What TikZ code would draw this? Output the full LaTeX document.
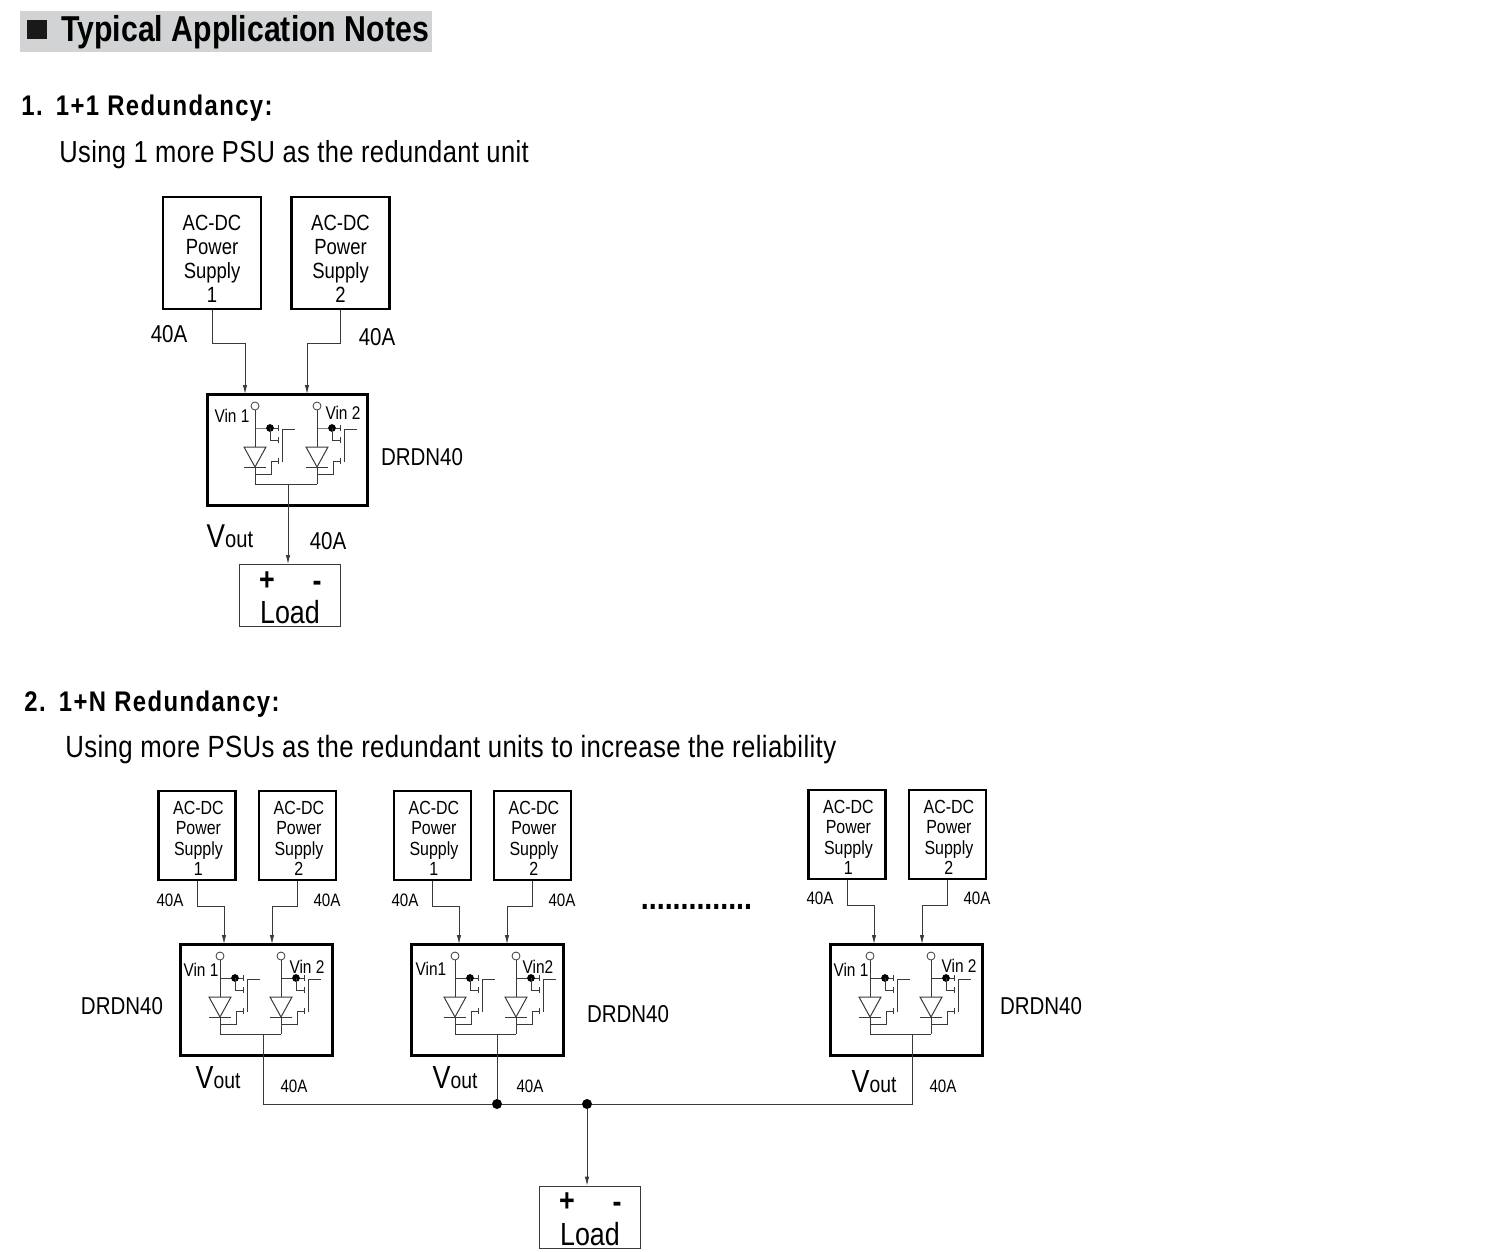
\documentclass[tikz,border=0pt]{standalone}
\usepackage{fontspec}
\setmainfont[FakeStretch=0.84]{Liberation Sans}
\newfontfamily\titlefont[FakeStretch=0.84,LetterSpace=5]{Liberation Sans}
\newfontfamily\notefont[FakeStretch=0.84,LetterSpace=1.2]{Liberation Sans}
\usetikzlibrary{arrows.meta,positioning,calc}
\definecolor{headgray}{HTML}{D1D3D4}
\definecolor{inkgray}{HTML}{3A3A3A}
\newcommand{\fsz}[1]{\fontsize{#1}{#1}\selectfont}
\tikzset{
  psubig/.style={draw=black,line width=1.3pt,minimum width=49pt,minimum height=56pt,inner sep=0pt,
    label={[psutext,font={\fontsize{11}{12}\selectfont},yshift=-2.7pt]center:AC-DC\\Power\\Supply\\#1}},
  psusmall/.style={draw=black,line width=1.2pt,minimum width=38.5pt,minimum height=44.5pt,inner sep=0pt,
    label={[psutext,font={\fontsize{9.5}{10.2}\selectfont},yshift=-1.5pt,xshift=0.7pt]center:AC-DC\\Power\\Supply\\#1}},
  psutext/.style={align=center,inner sep=0pt,text=black},
  cellbig/.style={draw=black,line width=1.5pt,minimum width=80pt,minimum height=55.5pt,inner sep=0pt},
  cellsmall/.style={draw=black,line width=1.5pt,minimum width=76pt,minimum height=55.5pt,inner sep=0pt},
  loadbox/.style={draw=inkgray,line width=0.4pt,minimum width=50.5pt,minimum height=31pt,inner sep=0pt},
  wire/.style={draw=inkgray,line width=0.4pt},
  feed/.style={wire,-{Latex[length=4.5pt,width=2.2pt]}},
  tag/.style={inner sep=0pt,font=\fsz{12.2}},
  tagsmall/.style={inner sep=0pt,font=\fsz{9}},
  vinbig/.style={inner sep=0pt,font=\fsz{9.2}},
  vinsmall/.style={inner sep=0pt,font=\fsz{9.2}},
  joint/.style={circle,fill=black,inner sep=0pt,minimum size=5pt},
  headtext/.style={anchor=west,inner sep=0pt},
  poletext/.style={inner sep=0pt,font=\fsz{16}\bfseries},
}
% one diode leg: #1 = branch x, #2 = top of the box
\newcommand{\oringleg}[2]{
  \begin{scope}[shift={(#1,#2)}]
    \draw[wire] (0,16) -- (0,53);
    \draw[wire,fill=white] (0,12) circle (2pt);
    \draw[wire,line width=0.5pt,line join=miter] (-11,53) -- (11,53) -- (0,73) -- cycle;
    \draw[wire,line width=0.5pt] (-11,73) -- (11,73);
    \draw[wire] (0,73) -- (0,90);
    \draw[wire] (0,34) -- (15,34) -- (23,34);
    \filldraw[black] (15,34) circle (1.7pt);
    \draw[wire] (15,34) -- (15,46) -- (23,46);
    \draw[wire] (23,31) -- (23,37);
    \draw[wire] (23,43) -- (23,49);
    \draw[wire] (40,35) -- (27,35) -- (27,68);
    \draw[wire] (0,80) -- (16,80) -- (16,67) -- (23,67);
    \draw[wire] (23,64) -- (23,70);
  \end{scope}
}
\begin{document}
\begin{tikzpicture}[x=0.5pt,y=-0.5pt]
\useasboundingbox (0,0) rectangle (1488,1252);
% heading
\fill[headgray] (20,11) rectangle (432,52);
\fill[black!90] (27,20) rectangle (47,39);
\node[headtext,font=\fsz{18}\bfseries] (head) at (61,32) {Typical Application Notes};
\node[headtext,font=\fsz{14.2}\titlefont\bfseries] (titleone) at (21,108) {1.\ \hspace{2.6pt}1+1 Redundancy:};
\node[headtext,font=\fsz{15.2}\notefont] (noteone) at (59,155) {Using 1 more PSU as the redundant unit};
\node[headtext,font=\fsz{14.2}\titlefont\bfseries] (titletwo) at (24,704) {2.\ \hspace{2.6pt}1+N Redundancy:};
\node[headtext,font=\fsz{15.34}\notefont] (notetwo) at (65,750) {Using more PSUs as the redundant units to increase the reliability};

% 1+1
\node[psubig={1}] (psua) at (212,253) {};
\node[psubig={2}] (psub) at (340.5,253) {};
\node[cellbig] (cell) at (287,449.5) {};
\coordinate (ina) at (245,394);
\coordinate (inb) at (307,394);
\coordinate (outo) at (288,484);
\oringleg{255}{394}
\oringleg{317}{394}
\draw[wire] (255,484) -- (317,484);
\node[loadbox] (load) at (289.5,595.5) {};
\draw[feed] (psua.south) -- ++(0,33) -| (ina);
\draw[feed] (psub.south) -- ++(0,33) -| (inb);
\draw[feed] (outo) -- (outo |- load.north);
\node[tag] (ta) at (169,334) {40A};
\node[tag] (tb) at (377,337) {40A};
\node[tag] (tc) at (328,541) {40A};
\node[tag] (tname) at (422,457) {DRDN40};
\node[vinbig] (va) at (232,416) {Vin 1};
\node[vinbig] (vb) at (343,413) {Vin 2};
\node[inner sep=0pt] (vo) at (230,536) {\fsz{16.5}V\fsz{12}out};
\node[poletext] at (267,581) {+};
\node[poletext] at (317,586) {-};
\node[inner sep=0pt,font=\fsz{16}] at (290,612) {Load};

% 1+N
\node[psusmall={1}] (psuaa) at (197,835.5) {};
\node[psusmall={2}] (psuab) at (297.5,835.5) {};
\node[psusmall={1}] (psuba) at (432.5,835.5) {};
\node[psusmall={2}] (psubb) at (532.5,835.5) {};
\node[psusmall={1}] (psuca) at (847,834.5) {};
\node[psusmall={2}] (psucb) at (947.5,834.5) {};
\node[cellsmall] (cella) at (256,999.5) {};
\node[cellsmall] (cellb) at (487.5,999.5) {};
\node[cellsmall] (cellc) at (906,999.5) {};
\oringleg{220}{944}
\oringleg{281}{944}
\oringleg{455}{944}
\oringleg{516}{944}
\oringleg{870}{944}
\oringleg{931}{944}
\draw[wire] (220,1034) -- (281,1034);
\draw[wire] (455,1034) -- (516,1034);
\draw[wire] (870,1034) -- (931,1034);
\coordinate (inaa) at (224,944);
\coordinate (inab) at (272,944);
\coordinate (inba) at (459,944);
\coordinate (inbb) at (507,944);
\coordinate (inca) at (874,944);
\coordinate (incb) at (922,944);
\coordinate (outa) at (263,1034);
\coordinate (outb) at (497,1034);
\coordinate (outc) at (912,1034);
\draw[feed] (psuaa.south) -- ++(0,25) -| (inaa);
\draw[feed] (psuab.south) -- ++(0,25) -| (inab);
\draw[feed] (psuba.south) -- ++(0,25) -| (inba);
\draw[feed] (psubb.south) -- ++(0,25) -| (inbb);
\draw[feed] (psuca.south) -- ++(0,25) -| (inca);
\draw[feed] (psucb.south) -- ++(0,25) -| (incb);
\node[joint] (joinb) at (497,1104) {};
\node[joint] (joinl) at (587,1104) {};
\node[loadbox] (loadn) at (589.5,1217) {};
\draw[wire] (outa) |- (joinb);
\draw[wire] (outb) -- (joinb);
\draw[wire] (joinb) -- (joinl);
\draw[wire] (outc) |- (joinl);
\draw[feed] (joinl) -- (joinl |- loadn.north);
\node[tagsmall] at (170,900) {40A};
\node[tagsmall] at (327,900) {40A};
\node[tagsmall] at (405,900) {40A};
\node[tagsmall] at (562,900) {40A};
\node[tagsmall] at (820,898) {40A};
\node[tagsmall] at (977,898) {40A};
\node[tagsmall] at (294,1086) {40A};
\node[tagsmall] at (530,1086) {40A};
\node[tagsmall] at (943,1086) {40A};
\node[inner sep=0pt,anchor=base,font=\fsz{17}\bfseries] (gap) at (696.5,909) {..............};
\node[vinsmall] at (201,970) {Vin 1};
\node[vinsmall] at (307,967) {Vin 2};
\node[vinsmall] at (431,969) {Vin1};
\node[vinsmall] at (538,967) {Vin2};
\node[vinsmall] at (851,970) {Vin 1};
\node[vinsmall] at (959,966) {Vin 2};
\node[tag] at (122,1006) {DRDN40};
\node[tag] at (628,1014) {DRDN40};
\node[tag] at (1041,1006) {DRDN40};
\node[inner sep=0pt] at (218,1078) {\fsz{16}V\fsz{11.5}out};
\node[inner sep=0pt] at (455,1078) {\fsz{16}V\fsz{11.5}out};
\node[inner sep=0pt] at (874,1082) {\fsz{16}V\fsz{11.5}out};
\node[poletext] at (567,1202) {+};
\node[poletext] at (617,1207) {-};
\node[inner sep=0pt,font=\fsz{16}] at (590,1234) {Load};
\end{tikzpicture}
\end{document}
